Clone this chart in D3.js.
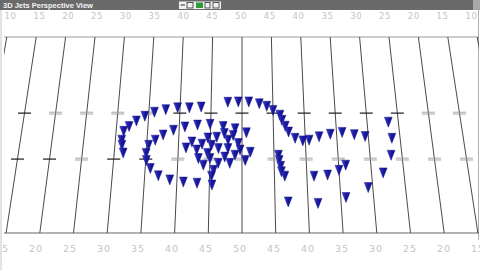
<!DOCTYPE html>
<html lang="en">
<head>
<meta charset="UTF-8">
<title>3D Jets Perspective View</title>
<script src="https://cdnjs.cloudflare.com/ajax/libs/d3/7.8.5/d3.min.js"></script>
<style>
  html, body { margin: 0; padding: 0; background: #fff; }
  svg { display: block; }
</style>
</head>
<body>
<svg id="chart" width="480" height="270"></svg>
<script>
    // field yard lines and labels
    const yardLines = d3.range(10, 91, 5);
    const yardLabels = ["10", "15", "20", "25", "30", "35", "40", "45", "50", "45", "40", "35", "30", "25", "20", "15", "10"];
    // hash rows (depth in yards from far sideline)
    const hashDepths = [20.7, 33.2];
    const darkHashUpper = [15, 40, 45, 50, 55, 60, 65, 70, 75];
    const darkHashLower = [15, 20, 30, 35];

    // jets: yard position along field, depth across field
    const jetYard = [31.0, 31.1, 31.4, 31.2, 32.0, 33.1, 34.4, 35.9, 37.7, 39.6, 41.5, 43.4,
        47.7, 49.4, 51.1, 52.8, 54.0, 55.0, 56.1, 56.4, 56.9, 57.4, 58.4, 59.6, 60.6, 62.2, 64.0, 65.9, 67.8, 69.5,
        73.4, 73.7, 73.3, 71.8, 69.3, 66.1, 65.0, 63.2, 61.1, 57.0, 61.5, 65.8,
        55.7, 55.8, 56.0, 56.1, 56.6,
        35.3, 35.0, 35.1, 35.8, 37.1, 38.9, 41.0, 43.1, 45.4,
        36.3, 37.5, 39.1, 40.9, 42.9, 44.9, 47.0, 48.9, 50.7,
        41.2, 42.1, 43.7, 44.6, 46.0, 47.2, 47.8, 48.6, 49.4,
        42.9, 44.6, 45.2, 46.3, 47.8, 49.7, 51.3,
        43.2, 44.0, 45.0, 46.3, 47.3, 48.1, 48.9, 50.5,
        45.6, 45.3];
    const jetDepth = [28.0, 29.4, 31.5, 25.6, 24.3, 22.8, 21.5, 20.4, 19.7, 19.2, 19.2, 19.0,
        17.7, 17.6, 17.6, 18.1, 18.8, 19.9, 21.2, 22.6, 24.2, 25.8, 27.5, 28.2, 28.0, 27.1, 26.4, 25.9, 26.5, 27.0,
        23.1, 27.5, 32.1, 36.9, 40.9, 34.8, 36.2, 37.5, 37.8, 44.8, 45.2, 43.6,
        32.1, 33.5, 35.1, 36.6, 37.8,
        29.4, 31.6, 33.5, 35.7, 37.7, 38.8, 39.4, 39.7, 40.2,
        28.0, 26.6, 25.3, 24.4, 23.9, 23.7, 24.3, 24.9, 26.0,
        30.1, 28.5, 29.1, 27.4, 27.2, 26.2, 28.0, 26.7, 28.9,
        30.7, 31.6, 29.4, 30.3, 30.3, 30.7, 31.3,
        33.0, 34.8, 33.0, 34.3, 32.6, 34.3, 32.1, 33.5,
        36.2, 37.8];

    const fieldWidth = 53.3;
    const svg = d3.select("#chart");

    // simple perspective: far edge narrower than near edge
    const xFar = d3.scaleLinear().domain([0, 100]).range([-52, 536]);
    const xNear = d3.scaleLinear().domain([0, 100]).range([-95, 579]);
    const depthT = d3.scaleLinear().domain([0, fieldWidth]);
    const yScale = d3.scaleLinear().domain([0, fieldWidth]).range([37, 233]);
    const project = (u, d) => [d3.interpolateNumber(xFar(u), xNear(u))(depthT(d)), yScale(d)];

    const defs = svg.append("defs");
    defs.append("clipPath").attr("id", "fieldClip")
        .append("rect").attr("x", 4).attr("y", 37).attr("width", 475).attr("height", 196);
    const grad = defs.append("linearGradient").attr("id", "jetFill")
        .attr("x1", "0%").attr("x2", "100%").attr("y1", "0%").attr("y2", "0%");
    grad.append("stop").attr("offset", "0%").attr("stop-color", "#4444d0");
    grad.append("stop").attr("offset", "45%").attr("stop-color", "#1a1aa4");
    grad.append("stop").attr("offset", "100%").attr("stop-color", "#0e0e84");

    // window frame
    svg.append("rect").attr("x", 0).attr("y", 0).attr("width", 480).attr("height", 270).attr("fill", "#fff");
    svg.append("line").attr("x1", 1).attr("x2", 1).attr("y1", 10).attr("y2", 270)
        .attr("stroke", "#c8c8c8").attr("stroke-width", 1);
    svg.append("line").attr("x1", 478.5).attr("x2", 478.5).attr("y1", 10).attr("y2", 240)
        .attr("stroke", "#b0b0b0").attr("stroke-width", 1);
    svg.append("rect").attr("x", 0).attr("y", 0).attr("width", 473).attr("height", 10).attr("fill", "#6a6a6a");
    svg.append("rect").attr("x", 473).attr("y", 0).attr("width", 7).attr("height", 10).attr("fill", "#a8a8a8");
    svg.append("text").attr("x", 3).attr("y", 8)
        .attr("font-family", "Liberation Sans, Arial, sans-serif").attr("font-size", 7.5).attr("font-weight", "bold")
        .attr("fill", "#f4f4f4").text("3D Jets Perspective View");

    // toolbar icons in the title bar
    const icons = svg.append("g");
    icons.append("rect").attr("x", 179).attr("y", 1.5).attr("width", 42).attr("height", 7.5).attr("fill", "#f0f0f0");
    icons.append("line").attr("x1", 180.5).attr("x2", 185).attr("y1", 5).attr("y2", 5).attr("stroke", "#333");
    icons.append("rect").attr("x", 187).attr("y", 2.5).attr("width", 6).attr("height", 5.5).attr("fill", "none").attr("stroke", "#333").attr("stroke-width", 0.8);
    icons.append("rect").attr("x", 196).attr("y", 2.5).attr("width", 7).attr("height", 5.5).attr("fill", "#2f9a3a");
    icons.append("rect").attr("x", 205).attr("y", 2.5).attr("width", 5).attr("height", 5.5).attr("fill", "none").attr("stroke", "#333").attr("stroke-width", 0.8);
    icons.append("rect").attr("x", 213).attr("y", 2.5).attr("width", 6).attr("height", 5.5).attr("fill", "none").attr("stroke", "#333").attr("stroke-width", 0.8);

    // yard number labels above and below the field
    const xTopLabel = d3.scaleLinear().domain([0, 100]).range([241 - 50 * 5.76, 241 + 50 * 5.76]);
    const xBotLabel = d3.scaleLinear().domain([0, 100]).range([240 - 50 * 6.8, 240 + 50 * 6.8]);
    svg.append("g").selectAll("text").data(yardLines).join("text")
        .attr("x", d => xTopLabel(d)).attr("y", 18.5)
        .attr("text-anchor", "middle")
        .attr("font-family", "DejaVu Sans, sans-serif").attr("font-size", 8.5).attr("letter-spacing", 0.6)
        .attr("fill", "#c4c4c4")
        .text((d, i) => yardLabels[i]);
    svg.append("g").selectAll("text").data(yardLines).join("text")
        .attr("x", d => xBotLabel(d)).attr("y", 252)
        .attr("text-anchor", "middle")
        .attr("font-family", "DejaVu Sans, sans-serif").attr("font-size", 9.5).attr("letter-spacing", 1)
        .attr("fill", "#c4c4c4")
        .text((d, i) => yardLabels[i]);

    // field edges
    svg.append("line").attr("x1", 4).attr("x2", 479).attr("y1", yScale(0)).attr("y2", yScale(0))
        .attr("stroke", "#9a9a9a").attr("stroke-width", 1);
    svg.append("line").attr("x1", 4).attr("x2", 479).attr("y1", yScale(fieldWidth)).attr("y2", yScale(fieldWidth))
        .attr("stroke", "#666").attr("stroke-width", 1);

    const field = svg.append("g").attr("clip-path", "url(#fieldClip)");

    // yard lines
    field.selectAll("line.yard").data(yardLines).join("line")
        .attr("class", "yard")
        .attr("x1", d => project(d, 0)[0]).attr("y1", d => project(d, 0)[1])
        .attr("x2", d => project(d, fieldWidth)[0]).attr("y2", d => project(d, fieldWidth)[1])
        .attr("stroke", "#4a4a4a").attr("stroke-width", 1);

    // hash marks
    const hashes = [];
    hashDepths.forEach((hd, row) => {
        const dark = row === 0 ? darkHashUpper : darkHashLower;
        yardLines.forEach(u => hashes.push({ u: u, d: hd, dark: dark.includes(u) }));
    });
    const hashG = field.append("g");
    hashes.forEach(h => {
        const p = project(h.u, h.d);
        if (h.dark) {
            hashG.append("line").attr("x1", p[0] - 6.5).attr("x2", p[0] + 6.5)
                .attr("y1", p[1]).attr("y2", p[1]).attr("stroke", "#1a1a1a").attr("stroke-width", 1.2);
        } else {
            [-1, 1].forEach(o => hashG.append("line").attr("x1", p[0] - 6.5).attr("x2", p[0] + 6.5)
                .attr("y1", p[1] + o * 0.9).attr("y2", p[1] + o * 0.9)
                .attr("stroke", "#9c9c9c").attr("stroke-width", 0.9));
        }
    });

    // jets, drawn far to near
    const jets = d3.zip(jetYard, jetDepth).map(([u, d]) => ({ u, d }))
        .sort((a, b) => a.d - b.d);
    field.append("g").selectAll("path").data(jets).join("path")
        .attr("transform", d => "translate(" + project(d.u, d.d) + ")")
        .attr("d", "M-3.9,-4.8L3.9,-4.8L0,5.2Z")
        .attr("fill", "url(#jetFill)")
        .attr("stroke", "#14148a").attr("stroke-width", 0.5).attr("stroke-linejoin", "round");
</script>
</body>
</html>
